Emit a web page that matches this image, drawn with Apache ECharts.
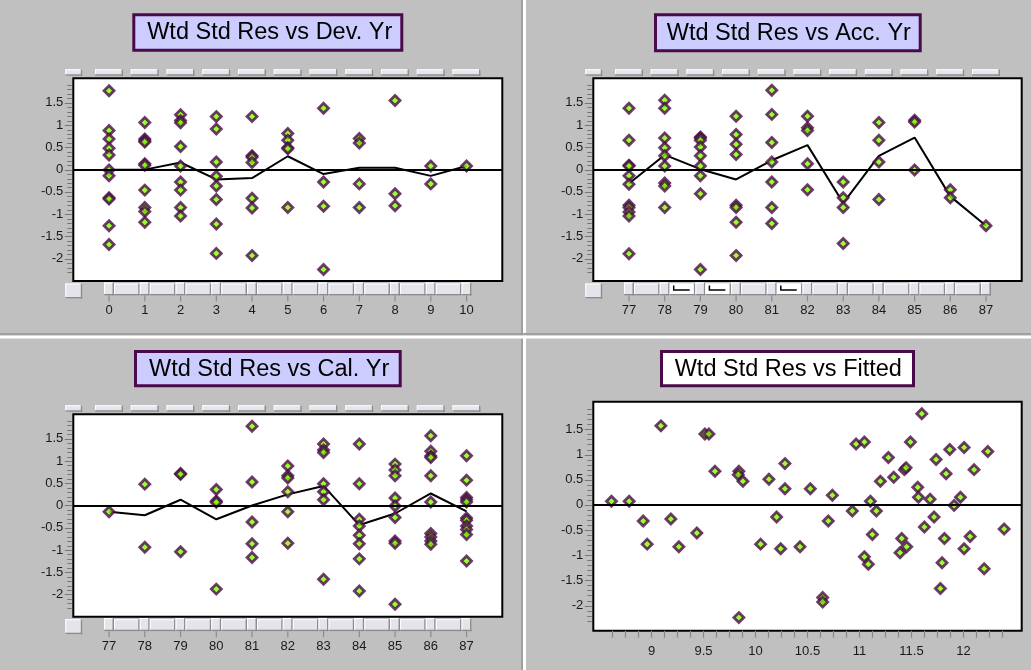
<!DOCTYPE html>
<html><head><meta charset="utf-8">
<script src="https://cdn.jsdelivr.net/npm/echarts@6/dist/echarts.min.js"></script>
<style>html,body{margin:0;padding:0;background:#c0c0c0;}#c{width:1031px;height:670px;}</style>
</head><body><div id="c"></div>
<script>
// ---------------- data ----------------
const titles = ['Wtd Std Res vs Dev. Yr', 'Wtd Std Res vs Acc. Yr', 'Wtd Std Res vs Cal. Yr', 'Wtd Std Res vs Fitted'];

const devYears = [0, 1, 2, 3, 4, 5, 6, 7, 8, 9, 10];
const devYrResiduals = [
  [1.77, 0.88, 0.69, 0.48, 0.33, -0.01, -0.14, -0.63, -0.66, -1.26, -1.68],
  [1.06, 0.69, 0.65, 0.62, 0.13, 0.10, -0.46, -0.85, -0.94, -1.18],
  [1.23, 1.10, 1.05, 0.52, 0.08, -0.28, -0.46, -0.85, -1.04],
  [1.19, 0.91, 0.17, -0.15, -0.37, -0.67, -1.22, -1.88],
  [1.19, 0.31, 0.28, 0.16, -0.64, -0.86, -1.93],
  [0.81, 0.66, 0.49, 0.47, -0.85],
  [1.38, -0.28, -0.82, -2.24],
  [0.70, 0.60, -0.32, -0.85],
  [1.55, -0.54, -0.81],
  [0.08, -0.32],
  [0.08]
];
const devYrMeans = [0.0, 0.0, 0.16, -0.22, -0.19, 0.30, -0.10, 0.04, 0.04, -0.14, 0.08];

const accYears = [77, 78, 79, 80, 81, 82, 83, 84, 85, 86, 87];
const accYrResiduals = [
  [1.38, 0.66, 0.10, 0.08, -0.14, -0.33, -0.80, -0.85, -0.95, -1.04, -1.89],
  [1.56, 1.38, 0.71, 0.49, 0.31, 0.08, -0.30, -0.37, -0.85],
  [0.73, 0.71, 0.66, 0.51, 0.31, 0.08, -0.14, -0.54, -2.24],
  [1.20, 0.79, 0.57, 0.34, -0.80, -0.85, -1.18, -1.93],
  [1.78, 1.24, 0.61, 0.17, -0.28, -0.85, -1.21],
  [1.20, 0.94, 0.88, 0.13, -0.45],
  [-0.28, -0.63, -0.85, -1.66],
  [1.06, 0.66, 0.17, -0.67],
  [1.11, 1.07, -0.01],
  [-0.45, -0.63],
  [-1.26]
];
const accYrMeans = [-0.31, 0.33, 0.01, -0.22, 0.21, 0.55, -0.75, 0.31, 0.72, -0.60, -1.26];
const accYrMarkedGaps = [78, 79, 81];

const calYears = [77, 78, 79, 80, 81, 82, 83, 84, 85, 86, 87];
const calYrResiduals = [
  [-0.14],
  [0.48, -0.94],
  [0.72, 0.70, -1.04],
  [0.36, 0.10, 0.07, -1.88],
  [1.78, 0.53, -0.37, -0.86, -1.17],
  [0.89, 0.67, 0.62, 0.31, -0.14, -0.85],
  [1.38, 1.25, 1.19, 0.49, 0.31, 0.13, -1.66],
  [1.38, 0.49, -0.31, -0.46, -0.67, -0.86, -1.20, -1.92],
  [0.93, 0.80, 0.67, 0.17, -0.01, -0.27, -0.80, -0.85, -2.22],
  [1.57, 1.22, 1.11, 1.08, 0.67, 0.08, -0.63, -0.71, -0.80, -0.87],
  [1.12, 0.57, 0.18, 0.13, 0.08, -0.28, -0.33, -0.46, -0.54, -0.65, -1.25]
];
const calYrMeans = [-0.14, -0.22, 0.13, -0.31, 0.0, 0.25, 0.44, -0.44, -0.18, 0.27, -0.13];

const fittedValues = [8.615, 8.785, 8.92, 8.958, 9.09, 9.186, 9.263, 9.436, 9.513, 9.552, 9.61, 9.84, 9.834, 9.879, 9.84,
  10.049, 10.129, 10.203, 10.242, 10.283, 10.283, 10.428, 10.527, 10.646, 10.646, 10.70, 10.739, 10.931, 10.967,
  11.047, 11.047, 11.085, 11.105, 11.124, 11.162, 11.201, 11.278, 11.329, 11.39, 11.406, 11.432, 11.448, 11.454,
  11.49, 11.56, 11.567, 11.599, 11.624, 11.679, 11.717, 11.737, 11.778, 11.794, 11.817, 11.833, 11.868, 11.91,
  11.971, 12.006, 12.006, 12.064, 12.102, 12.199, 12.234, 12.391];
const fittedResiduals = [0.07, 0.07, -0.32, -0.78, 1.57, -0.28, -0.83, -0.56, 1.41, 1.41, 0.67, 0.67, 0.60, 0.47, -2.24,
  -0.78, 0.51, -0.24, -0.87, 0.82, 0.32, -0.83, 0.32, -1.84, -1.93, -0.32, 0.19, -0.12, 1.21,
  1.25, -1.03, -1.18, 0.07, -0.59, -0.12, 0.47, 0.94, 0.55, -0.95, -0.67, 0.70, 0.74, -0.83,
  1.25, 0.35, 0.15, 1.81, -0.44, 0.11, -0.24, 0.90, -1.66, -1.15, -0.67, 0.62, 1.10, -0.01,
  0.15, 1.14, -0.87, -0.63, 0.70, -1.27, 1.06, -0.48];

const yTickLabels = [-2, -1.5, -1, -0.5, 0, 0.5, 1, 1.5];
const fittedXTickLabels = [9, 9.5, 10, 10.5, 11, 11.5, 12];

// ---------------- helpers ----------------
const FONT = 'Liberation Sans, Arial, sans-serif';
const yMinorTicks = [];
for (let k = -23; k <= 19; k++) yMinorTicks.push(k / 10);
const xMinorTicksFitted = [];
for (let k = 69; k <= 99; k++) xMinorTicksFitted.push(k / 8);

function pairsFromGroups(cats, groups) {
  const out = [];
  groups.forEach((g, i) => g.forEach(v => out.push([cats[i], v])));
  return out;
}
function pairs(xs, ys) { return xs.map((x, i) => [x, ys[i]]); }

function button(x, y, w, h, white) {
  return {
    type: 'group', children: [
      { type: 'rect', shape: { x: x, y: y, width: w, height: h }, style: { fill: white ? '#ffffff' : '#e4e4ec', stroke: null } },
      { type: 'line', shape: { x1: x, y1: y + 0.5, x2: x + w, y2: y + 0.5 }, style: { stroke: '#ffffff', lineWidth: 1 } },
      { type: 'line', shape: { x1: x + 0.5, y1: y, x2: x + 0.5, y2: y + h }, style: { stroke: '#ffffff', lineWidth: 1 } },
      { type: 'line', shape: { x1: x, y1: y + h - 0.75, x2: x + w, y2: y + h - 0.75 }, style: { stroke: '#8c8c8c', lineWidth: 1.5 } },
      { type: 'line', shape: { x1: x + w - 0.75, y1: y, x2: x + w - 0.75, y2: y + h }, style: { stroke: '#8c8c8c', lineWidth: 1.5 } }
    ]
  };
}

function decoRenderer(cats, marked) {
  return function (params, api) {
    const idx = params.dataIndex;
    const cs = params.coordSys;
    const x = api.coord([cats[idx], 0])[0];
    const children = [];
    const topY = cs.y - 9, topH = 6.5;
    const botY = cs.y + cs.height + 1.5, botH = 13;
    children.push(button(x - 14, topY, 28, topH));
    children.push(button(x - 5, botY, 10, botH));
    if (idx < cats.length - 1) {
      const nx = api.coord([cats[idx + 1], 0])[0];
      const white = marked.indexOf(cats[idx]) >= 0;
      children.push(button(x + 5, botY + 1, nx - x - 10, botH - 1, white));
      if (white) {
        children.push({ type: 'polyline', shape: { points: [[x + 9, botY + 3], [x + 9, botY + 7.5], [x + 25, botY + 7.5]] }, style: { stroke: '#000', lineWidth: 1.5, fill: null } });
      }
    }
    children.push({ type: 'line', shape: { x1: x, y1: botY + botH, x2: x, y2: botY + botH + 6 }, style: { stroke: '#8a8a8a', lineWidth: 1.2 } });
    if (idx === 0) {
      children.push(button(cs.x - 8, topY, 17, topH));
      children.push(button(cs.x - 8, botY + 1, 17, 15));
    }
    return { type: 'group', children: children };
  };
}

// y-axis tick marks (minor every 0.1, longer at labelled values), placed through the axis scale
function yTickRenderer(params, api) {
  const cs = params.coordSys;
  const v = api.value(1);
  const y = Math.round(api.coord([api.value(0), v])[1]) + 0.5;
  const major = yTickLabels.some(t => Math.abs(t - v) < 1e-6);
  const len = major ? 7 : 4.5;
  return { type: 'line', shape: { x1: cs.x - 1.5 - len, y1: y, x2: cs.x - 1.5, y2: y }, style: { stroke: '#777777', lineWidth: 1 } };
}

const grids = [
  { left: 73.3, top: 78.3, width: 429, height: 202.7 },
  { left: 593.3, top: 78.3, width: 428.4, height: 202.7 },
  { left: 73.3, top: 414.3, width: 429, height: 202.4 },
  { left: 593.3, top: 401.7, width: 428.4, height: 229 }
].map(g => Object.assign(g, { show: true, backgroundColor: '#ffffff', borderColor: '#000000', borderWidth: 2 }));

const labelStyle = { color: '#1a1a1a', fontSize: 13, fontFamily: FONT };

const xRanges = [[-1, 11], [76, 88], [76, 88], [8.44, 12.56]];
const xCats = [devYears, accYears, calYears];
const xAxes = [];
for (let i = 0; i < 3; i++) {
  xAxes.push({
    gridIndex: i, type: 'value', min: xRanges[i][0], max: xRanges[i][1],
    axisLine: { show: false, onZero: false }, axisTick: { show: false }, splitLine: { show: false },
    axisLabel: Object.assign({ customValues: xCats[i], margin: 23 }, labelStyle)
  });
}
xAxes.push({
  gridIndex: 3, type: 'value', min: xRanges[3][0], max: xRanges[3][1],
  axisLine: { show: false, onZero: false }, splitLine: { show: false },
  axisTick: { show: true, customValues: xMinorTicksFitted, length: 7, lineStyle: { color: '#888', width: 1.2 } },
  axisLabel: Object.assign({ customValues: fittedXTickLabels, margin: 14 }, labelStyle)
});

const yAxes = [];
for (let i = 0; i < 4; i++) {
  yAxes.push({
    gridIndex: i, type: 'value', min: -2.5, max: 2.05,
    axisLine: { show: false, onZero: false }, splitLine: { show: false }, axisTick: { show: false },
    axisLabel: Object.assign({ customValues: yTickLabels, margin: 10, padding: [3, 0, 0, 0] }, labelStyle)
  });
}

const diamondStyle = { color: '#80ff00', borderColor: '#4a0a4a', borderWidth: 2.8 };
const zeroLine = {
  silent: true, symbol: ['none', 'none'], label: { show: false },
  lineStyle: { color: '#000', width: 2, type: 'solid' }, data: [{ yAxis: 0 }]
};

const series = [];
const groupSets = [devYrResiduals, accYrResiduals, calYrResiduals];
const meanSets = [devYrMeans, accYrMeans, calYrMeans];
const markedSets = [[], accYrMarkedGaps, []];
for (let i = 0; i < 4; i++) {
  series.push({
    type: 'custom', xAxisIndex: i, yAxisIndex: i, silent: true, clip: false, z: 1,
    renderItem: yTickRenderer,
    data: yMinorTicks.map(v => [xRanges[i][0], v])
  });
}
for (let i = 0; i < 3; i++) {
  series.push({
    type: 'custom', xAxisIndex: i, yAxisIndex: i, silent: true, clip: false, z: 1,
    renderItem: decoRenderer(xCats[i], markedSets[i]),
    data: xCats[i].map(c => [c, 0])
  });
  series.push({
    type: 'line', xAxisIndex: i, yAxisIndex: i, data: pairs(xCats[i], meanSets[i]),
    showSymbol: false, symbol: 'none', lineStyle: { color: '#000', width: 2 }, z: 3, silent: true,
    markLine: zeroLine
  });
  series.push({
    type: 'scatter', xAxisIndex: i, yAxisIndex: i, data: pairsFromGroups(xCats[i], groupSets[i]),
    symbol: 'diamond', symbolSize: 10, itemStyle: diamondStyle, z: 4, silent: true
  });
}
series.push({
  type: 'scatter', xAxisIndex: 3, yAxisIndex: 3, data: pairs(fittedValues, fittedResiduals),
  symbol: 'diamond', symbolSize: 10, itemStyle: diamondStyle, z: 4, silent: true,
  markLine: zeroLine
});

// title boxes + panel separators
const titleBoxes = [
  { box: [132.3, 13.3, 271, 38.4], cx: 269.7, fill: '#ccccff' },
  { box: [654, 13.3, 267.7, 39], cx: 788.8, fill: '#ccccff' },
  { box: [134, 350, 267.7, 37.3], cx: 269.2, fill: '#ccccff' },
  { box: [660, 350, 255, 37.3], cx: 788.3, fill: '#ffffff' }
];
const graphic = [
  { type: 'rect', shape: { x: 521, y: 0, width: 2, height: 670 }, style: { fill: '#a0a0a0' }, z: 0 },
  { type: 'rect', shape: { x: 523, y: 0, width: 3, height: 670 }, style: { fill: '#ffffff' }, z: 0 },
  { type: 'rect', shape: { x: 0, y: 333, width: 1031, height: 2.5 }, style: { fill: '#a0a0a0' }, z: 0 },
  { type: 'rect', shape: { x: 0, y: 335.5, width: 1031, height: 3 }, style: { fill: '#ffffff' }, z: 0 }
];
titleBoxes.forEach((t, i) => {
  const [x, y, w, h] = t.box;
  graphic.push({ type: 'rect', shape: { x: x + 1.5, y: y + 1.5, width: w - 3, height: h - 3 }, style: { fill: t.fill, stroke: '#4a0a4a', lineWidth: 3 }, z: 10 });
  graphic.push({ type: 'text', x: t.cx, y: y + h / 2 + 0.5, style: { text: titles[i], fill: '#000', font: '23.5px ' + FONT, align: 'center', verticalAlign: 'middle' }, z: 11 });
});

const chart = echarts.init(document.getElementById('c'), null, { renderer: 'canvas' });
chart.setOption({
  backgroundColor: '#c0c0c0',
  animation: false,
  grid: grids,
  xAxis: xAxes,
  yAxis: yAxes,
  series: series,
  graphic: graphic
});
</script></body></html>
